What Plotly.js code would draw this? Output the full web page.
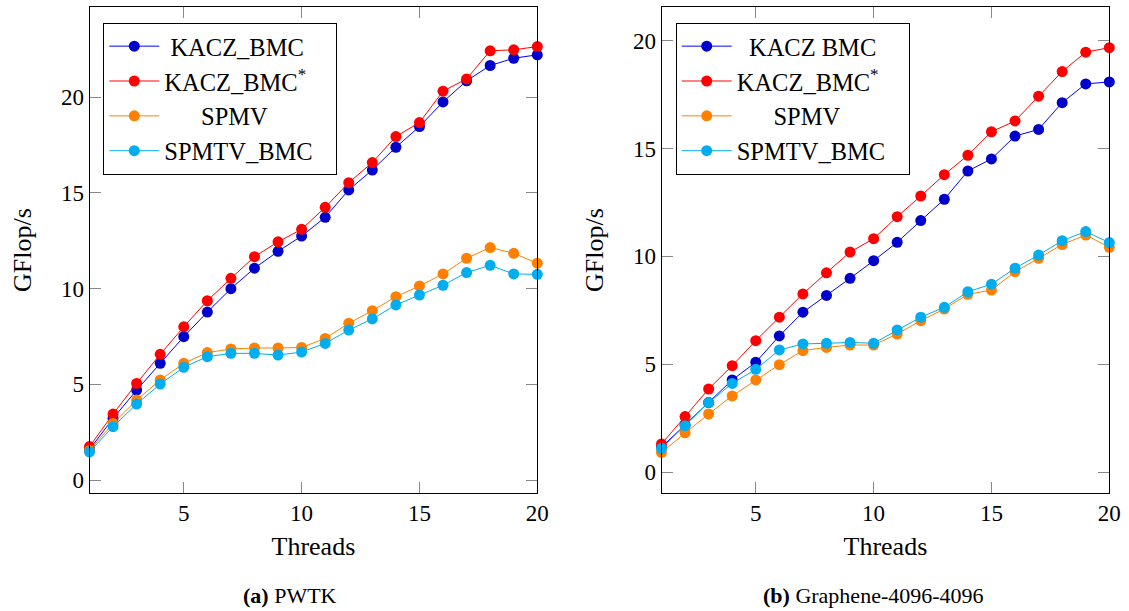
<!DOCTYPE html>
<html>
<head>
<meta charset="utf-8">
<script src="https://cdn.plot.ly/plotly-3.0.1.min.js"></script>
<style>body{margin:0;padding:0;background:#fff}#chart{width:1129px;height:611px}</style>
</head>
<body>
<div id="chart"></div>
<script>
// Threads
var threads = [1,2,3,4,5,6,7,8,9,10,11,12,13,14,15,16,17,18,19,20];

// (a) PWTK
var pwtkKacz     = [1.6,3.22,4.70,6.10,7.49,8.78,10.0,11.07,11.95,12.75,13.73,15.16,16.20,17.39,18.47,19.76,20.86,21.66,22.04,22.22];
var pwtkKaczStar = [1.75,3.45,5.05,6.57,8.01,9.37,10.54,11.67,12.45,13.10,14.25,15.54,16.59,17.95,18.68,20.32,20.96,22.43,22.48,22.65];
var pwtkSpmv     = [1.55,2.96,4.18,5.23,6.10,6.66,6.85,6.90,6.90,6.93,7.40,8.19,8.85,9.58,10.14,10.77,11.59,12.15,11.85,11.33];
var pwtkSpmtv    = [1.48,2.79,3.97,5.02,5.89,6.45,6.62,6.62,6.53,6.69,7.14,7.84,8.42,9.15,9.67,10.18,10.84,11.22,10.77,10.75];

// (b) Graphene-4096-4096
var grKacz     = [1.15,2.18,3.22,4.27,5.09,6.31,7.41,8.19,8.98,9.80,10.65,11.66,12.65,13.96,14.52,15.58,15.89,17.13,18.00,18.09];
var grKaczStar = [1.30,2.57,3.85,4.93,6.09,7.18,8.26,9.24,10.2,10.82,11.84,12.80,13.79,14.69,15.78,16.28,17.43,18.57,19.47,19.68];
var grSpmv     = [0.91,1.82,2.69,3.53,4.27,4.98,5.63,5.78,5.89,5.89,6.40,7.02,7.56,8.24,8.44,9.29,9.91,10.55,10.99,10.42];
var grSpmtv    = [1.10,2.15,3.22,4.11,4.76,5.66,5.94,5.97,6.01,5.97,6.59,7.18,7.64,8.36,8.71,9.45,10.06,10.73,11.15,10.64];

var namesA = ["\u00a0KACZ_BMC", "KACZ_BMC<sup>*</sup>", "\u00a0\u00a0\u00a0\u00a0\u00a0\u00a0SPMV", "SPMTV_BMC\u00a0\u00a0\u00a0"];
var namesB = ["\u00a0\u00a0KACZ BMC", "KACZ_BMC<sup>*</sup>", "\u00a0\u00a0\u00a0\u00a0\u00a0\u00a0SPMV", "SPMTV_BMC\u00a0\u00a0\u00a0"];
var yTicks = [0,5,10,15,20];
var xTicks = [5,10,15,20];
var captionA = "<b>(a)</b> PWTK";
var captionB = "<b>(b)</b> Graphene-4096-4096";

var lineCols = ["#0000ff","#ff0000","#ff8000","#00aeef"];
var markCols = ["#0000cc","#ff0000","#ff8000","#00aeef"];

function mk(y, i, xa, ya, name, leg) {
  return {
    x: threads, y: y, xaxis: xa, yaxis: ya, name: name, legend: leg,
    type: "scatter", mode: "lines+markers", cliponaxis: false,
    line: {color: lineCols[i], width: 1},
    marker: {color: markCols[i], size: 11, line: {width: 0}}
  };
}

var dataA = [pwtkKacz, pwtkKaczStar, pwtkSpmv, pwtkSpmtv];
var dataB = [grKacz, grKaczStar, grSpmv, grSpmtv];
var traces = [];
dataA.forEach(function(y,i){ traces.push(mk(y,i,"x","y",namesA[i],"legend")); });
dataB.forEach(function(y,i){ traces.push(mk(y,i,"x2","y2",namesB[i],"legend2")); });

var F = "Liberation Serif";
function xax(dom) {
  return {domain: dom, range: [1,20], tickvals: xTicks, ticks: "inside", ticklen: 11, tickcolor: "#888",
    showline: true, linecolor: "#000", linewidth: 1, mirror: "allticks", showgrid: false, zeroline: false,
    tickfont: {family: F, size: 23, color: "#000"},
    title: {text: "Threads", font: {family: F, size: 26, color: "#000"}, standoff: 11}};
}
function yax(range, anchor) {
  return {domain: [0.1936, 0.988], range: range, tickvals: yTicks, ticks: "inside", ticklen: 11, tickcolor: "#888",
    showline: true, linecolor: "#000", linewidth: 1, mirror: "allticks", showgrid: false, zeroline: false,
    anchor: anchor,
    tickfont: {family: F, size: 23, color: "#000"},
    title: {text: "GFlop/s", font: {family: F, size: 26, color: "#000"}, standoff: 21}};
}
var legStyle = function(x) {
  return {x: x, y: 0.9628, xanchor: "left", yanchor: "top", bgcolor: "#fff", bordercolor: "#000",
    borderwidth: 1, font: {family: F, size: 24.5, color: "#000"}, itemwidth: 50, tracegroupgap: 0};
};

var layout = {
  width: 1129, height: 611, margin: {l: 0, r: 0, t: 0, b: 0},
  paper_bgcolor: "#fff", plot_bgcolor: "#fff", showlegend: true,
  font: {family: F, color: "#000"},
  xaxis: Object.assign(xax([89.5/1129, 537.3/1129]), {anchor: "y"}),
  yaxis: yax([-0.66, 24.7], "x"),
  xaxis2: Object.assign(xax([661.5/1129, 1109.3/1129]), {anchor: "y2"}),
  yaxis2: yax([-0.96, 21.55], "x2"),
  legend: legStyle(103.3/1129),
  legend2: legStyle(675.7/1129),
  annotations: [
    {text: captionA, xref: "paper", yref: "paper", x: 290/1129, y: 1-595/611, xanchor: "center", yanchor: "middle",
     showarrow: false, font: {family: F, size: 22, color: "#000"}},
    {text: captionB, xref: "paper", yref: "paper", x: 873/1129, y: 1-595/611, xanchor: "center", yanchor: "middle",
     showarrow: false, font: {family: F, size: 22, color: "#000"}}
  ]
};

Plotly.newPlot("chart", traces, layout, {staticPlot: true, displayModeBar: false});
</script>
</body>
</html>
